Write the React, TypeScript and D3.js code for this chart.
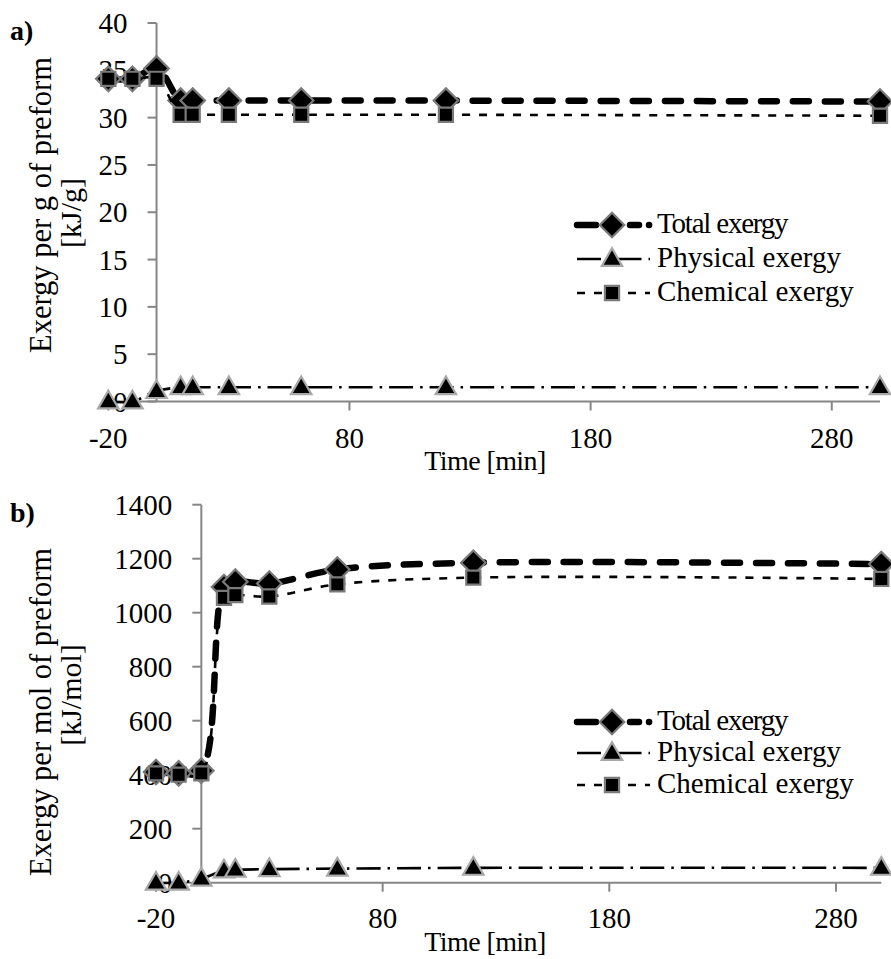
import React from "react";
import * as d3 from "d3";

// ---------- data ----------
const times = [-20, -10, 0, 10, 15, 30, 60, 120, 300];

// panel a) exergy per g of preform [kJ/g]
const totalA = [34.1, 34.1, 35.2, 31.8, 31.8, 31.8, 31.8, 31.8, 31.7];
const physA = [0, 0, 1.1, 1.5, 1.5, 1.5, 1.5, 1.5, 1.5];
const chemA = [34.1, 34.1, 34.1, 30.3, 30.3, 30.3, 30.3, 30.3, 30.2];

// panel b) exergy per mol of preform [kJ/mol]
const totalB = [410, 405, 415, 1095, 1115, 1108, 1160, 1185, 1180];
const physB = [0, 0, 15, 45, 48, 50, 52, 55, 55];
const chemB = [405, 400, 405, 1055, 1065, 1060, 1105, 1130, 1125];

const xTicks = [-20, 80, 180, 280];
const yTicksA = [0, 5, 10, 15, 20, 25, 30, 35, 40];
const yTicksB = [0, 200, 400, 600, 800, 1000, 1200, 1400];

const seriesNames = ["Total exergy", "Physical exergy", "Chemical exergy"];
const xTitle = "Time [min]";

const FONT = "'Liberation Serif', 'Times New Roman', serif";
const AXIS = "#868686";

type PanelProps = {
  label: string;
  xRange: [number, number];
  yDomain: [number, number];
  yRange: [number, number];
  yTicks: number[];
  total: number[];
  phys: number[];
  chem: number[];
  title1: string;
  title2: string;
  title1Y: number;
  title2Y: number;
  labelY: number;
  xLabelY: number;
  xTitleY: number;
  legend: { x0: number; x1: number; mx: number; tx: number; rows: number[] };
};

function Marker({ kind, x, y }: { kind: string; x: number; y: number }) {
  if (kind === "diamond") {
    const p = d3.symbol().type(d3.symbolSquare).size(300)();
    return (
      <path d={p || ""} transform={`translate(${x},${y}) rotate(45)`} fill="#000" stroke="#7a7a7a" strokeWidth={2.2} />
    );
  }
  if (kind === "triangle") {
    const p = d3.symbol().type(d3.symbolTriangle).size(180)();
    return <path d={p || ""} transform={`translate(${x},${y + 1})`} fill="#000" stroke="#a8a8a8" strokeWidth={2.2} />;
  }
  const p = d3.symbol().type(d3.symbolSquare).size(200)();
  return <path d={p || ""} transform={`translate(${x},${y})`} fill="#000" stroke="#7a7a7a" strokeWidth={2.2} />;
}

function Panel(props: PanelProps) {
  const x = d3.scaleLinear().domain([-20, 300]).range(props.xRange);
  const y = d3.scaleLinear().domain(props.yDomain).range(props.yRange);
  const line = d3
    .line<number>()
    .x((_, i) => x(times[i]))
    .y((d) => y(d))
    .curve(d3.curveCatmullRom.alpha(0.5));
  const x0 = x(0);
  const y0 = y(0);
  const { legend } = props;
  const styles = [
    { stroke: "#000", width: 6.5, dash: "16 16", cap: "round" as const, marker: "diamond" },
    { stroke: "#000", width: 2.6, dash: "24 7 2.5 7", cap: "butt" as const, marker: "triangle" },
    { stroke: "#000", width: 2.6, dash: "8 9", cap: "butt" as const, marker: "square" },
  ];
  const data = [props.total, props.phys, props.chem];
  const legendDash = ["19 34 9 10 0.1 60", "24 7 2.5 7", "8 9"];
  const legendSpacing = [-1.2, 0, 0];
  return (
    <g>
      <text x={10} y={props.labelY} fontFamily={FONT} fontWeight="bold" fontSize={28}>
        {props.label}
      </text>
      {/* y title */}
      <text
        transform={`translate(51,${props.title1Y}) rotate(-90)`}
        textAnchor="middle"
        fontFamily={FONT}
        fontSize={30.5}
      >
        {props.title1}
      </text>
      <text
        transform={`translate(81,${props.title2Y}) rotate(-90)`}
        textAnchor="middle"
        fontFamily={FONT}
        fontSize={30}
      >
        {props.title2}
      </text>
      {/* axes */}
      <line x1={x0} x2={x0} y1={y(props.yDomain[1])} y2={y0} stroke={AXIS} strokeWidth={2} />
      <line x1={x(-20)} x2={x(300)} y1={y0} y2={y0} stroke={AXIS} strokeWidth={2} />
      {props.yTicks.map((t) => (
        <g key={"yt" + t}>
          <line x1={x0 - 9} x2={x0} y1={y(t)} y2={y(t)} stroke={AXIS} strokeWidth={2} />
          <text x={x0 - 29} y={y(t) + 10} textAnchor="end" fontFamily={FONT} fontSize={29}>
            {t}
          </text>
        </g>
      ))}
      {xTicks.map((t) => (
        <g key={"xt" + t}>
          <line x1={x(t)} x2={x(t)} y1={y0} y2={y0 + 9} stroke={AXIS} strokeWidth={2} />
          <text x={x(t)} y={props.xLabelY} textAnchor="middle" fontFamily={FONT} fontSize={29}>
            {t}
          </text>
        </g>
      ))}
      <text x={485} y={props.xTitleY} textAnchor="middle" fontFamily={FONT} fontSize={28} letterSpacing={-0.6}>
        {xTitle}
      </text>
      {/* series */}
      {data.map((vals, si) => (
        <g key={"s" + si}>
          <path
            d={line(vals) || ""}
            fill="none"
            stroke={styles[si].stroke}
            strokeWidth={styles[si].width}
            strokeDasharray={styles[si].dash}
            strokeLinecap={styles[si].cap}
          />
          {vals.map((v, i) => (
            <Marker key={i} kind={styles[si].marker} x={x(times[i])} y={y(v)} />
          ))}
        </g>
      ))}
      {/* legend */}
      {seriesNames.map((name, si) => {
        const ry = legend.rows[si];
        return (
          <g key={"lg" + si}>
            <line
              x1={legend.x0}
              x2={legend.x1}
              y1={ry}
              y2={ry}
              stroke="#000"
              strokeWidth={styles[si].width}
              strokeDasharray={legendDash[si]}
              strokeLinecap={styles[si].cap}
            />
            <Marker kind={styles[si].marker} x={legend.mx} y={ry} />
            <text x={legend.tx} y={ry + 8} fontFamily={FONT} fontSize={29} letterSpacing={legendSpacing[si]}>
              {name}
            </text>
          </g>
        );
      })}
    </g>
  );
}

export default function App() {
  return (
    <div style={{ position: "absolute", left: 0, top: 0 }}>
      <svg width={891} height={959} style={{ display: "block", background: "#fff" }}>
        <Panel
          label="a)"
          xRange={[108.3, 880]}
          yDomain={[0, 40]}
          yRange={[401.5, 23]}
          yTicks={yTicksA}
          total={totalA}
          phys={physA}
          chem={chemA}
          title1="Exergy per g of preform"
          title2="[kJ/g]"
          title1Y={205}
          title2Y={213}
          labelY={40}
          xLabelY={448}
          xTitleY={470}
          legend={{ x0: 577, x1: 650, mx: 612, tx: 657, rows: [225, 259, 293] }}
        />
        <Panel
          label="b)"
          xRange={[156, 881.3]}
          yDomain={[0, 1400]}
          yRange={[882.7, 504.7]}
          yTicks={yTicksB}
          total={totalB}
          phys={physB}
          chem={chemB}
          title1="Exergy per mol of preform"
          title2="[kJ/mol]"
          title1Y={712}
          title2Y={695}
          labelY={522}
          xLabelY={928}
          xTitleY={951}
          legend={{ x0: 577, x1: 650, mx: 612, tx: 657, rows: [722, 753, 785] }}
        />
      </svg>
    </div>
  );
}
